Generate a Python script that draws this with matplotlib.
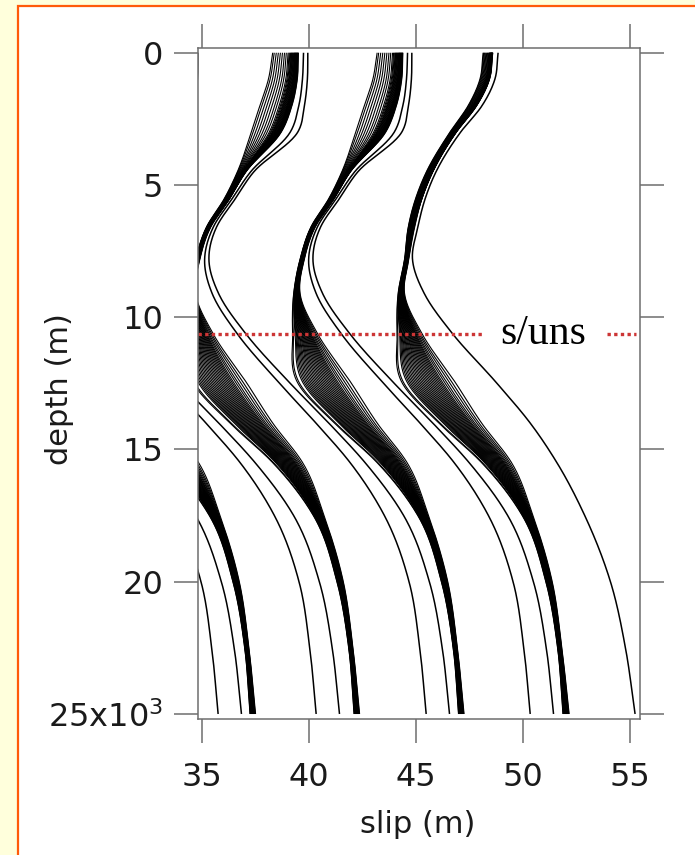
import numpy as np
import matplotlib
matplotlib.use("Agg")
import matplotlib.pyplot as plt
from matplotlib.patches import Rectangle

DEPTH_KNOTS = [0, 1, 2, 3, 4.5, 5.5, 6.6, 7.8, 9.1, 10.6, 12.5, 14, 15.5, 17.5, 20, 22.5, 25]

# reference cycle: left and right edge of the dense post-seismic bundle
BUNDLE_LEFT = [43.2, 43.0, 42.6, 42.2, 41.55, 40.95, 40.1, 39.6, 39.3, 39.25, 39.5, 41.2, 43.2, 45.1, 46.2, 46.75, 47.0]
BUNDLE_RIGHT = [44.4, 44.35, 44.1, 43.6, 41.95, 41.2, 40.3, 39.8, 39.6, 40.4, 42.0, 43.2, 44.6, 45.6, 46.5, 46.95, 47.26]

# reference cycle: the two interseismic profiles
INTER_1 = [44.62, 44.57, 44.4, 44.0, 42.15, 41.3, 40.4, 40.0, 40.35, 41.5, 43.5, 45.2, 46.8, 48.4, 49.55, 50.05, 50.35]
INTER_2 = [44.82, 44.8, 44.66, 44.35, 42.3, 41.45, 40.55, 40.2, 40.65, 41.9, 44.0, 45.8, 47.5, 49.3, 50.5, 51.1, 51.44]

# last (incomplete) cycle
LAST_BUNDLE_LEFT = [48.15, 48.0, 47.45, 46.6, 45.5, 45.0, 44.65, 44.48, 44.18, 44.13, 44.38, 46.08, 48.08, 49.98, 51.08, 51.63, 51.88]
LAST_BUNDLE_RIGHT = [48.6, 48.45, 47.85, 46.9, 45.8, 45.3, 44.95, 44.68, 44.48, 45.28, 46.88, 48.08, 49.48, 50.48, 51.38, 51.83, 52.17]
FINAL_PROFILE = [48.85, 48.7, 48.1, 47.1, 45.95, 45.45, 45.1, 44.85, 45.4, 46.7, 48.8, 50.35, 51.6, 52.9, 54.1, 54.8, 55.25]

# slip offsets of earlier cycles (read from where the groups end at 25 km)
BUNDLE_SHIFTS = [-9.74, -4.88, 0.0]
INTER_SHIFTS = [-14.58, -10.0, -4.86, 0.0]

# position of each bundle line between its left (0) and right (1) edge,
# above 6 km (sparse then packed) and below (evenly packed)
FRACS_SHALLOW = [0.0, 0.06, 0.14, 0.22, 0.3, 0.38, 0.46, 0.53, 0.6, 0.64,
                 0.67, 0.7, 0.72, 0.74, 0.76, 0.78, 0.8, 0.82, 0.84, 0.855,
                 0.87, 0.885, 0.9, 0.915, 0.93, 0.945, 0.96, 0.975, 0.99, 1.0]
FRACS_DEEP = [0.0, 0.03, 0.1, 0.13, 0.16, 0.19, 0.22, 0.25, 0.28, 0.31,
              0.34, 0.37, 0.4, 0.43, 0.46, 0.49, 0.52, 0.55, 0.58, 0.61,
              0.64, 0.67, 0.7, 0.73, 0.76, 0.8, 0.84, 0.89, 0.94, 1.0]

TRANSITION_DEPTH = 10.63
X_TICKS = [35, 40, 45, 50, 55]
Y_TICKS = [0, 5, 10, 15, 20, 25]
Y_TICK_LABELS = ["0", "5", "10", "15", "20", "25x10$^3$"]

AXIS_GREY = "#6e6e6e"


def smooth_profile(depths, slips, n=400):
    z = np.asarray(depths, float)
    s = np.asarray(slips, float)
    m = np.gradient(s, z)
    zz = np.linspace(z[0], z[-1], n)
    i = np.clip(np.searchsorted(z, zz, side="right") - 1, 0, len(z) - 2)
    h = z[i + 1] - z[i]
    t = (zz - z[i]) / h
    h00 = 2 * t**3 - 3 * t**2 + 1
    h10 = t**3 - 2 * t**2 + t
    h01 = -2 * t**3 + 3 * t**2
    h11 = t**3 - t**2
    return zz, h00 * s[i] + h10 * h * m[i] + h01 * s[i + 1] + h11 * h * m[i + 1]


def draw_profile(ax, slips, shift=0.0, lw=1.1):
    z, s = smooth_profile(DEPTH_KNOTS, np.asarray(slips) + shift)
    ax.plot(s, z, color="black", lw=lw, solid_capstyle="butt")


def draw_bundle(ax, left, right, shift=0.0):
    left = np.asarray(left)
    right = np.asarray(right)
    shallow = np.asarray(DEPTH_KNOTS) <= 5.5
    for f_top, f_deep in zip(FRACS_SHALLOW, FRACS_DEEP):
        f = np.where(shallow, f_top, f_deep)
        draw_profile(ax, left + f * (right - left), shift, lw=0.8)


def main():
    fig = plt.figure(figsize=(6.95, 8.55), dpi=100)
    fig.patch.set_facecolor("#FFFFDC")
    # white sheet with an orange frame, only its top and left edges fall inside the image
    fig.patches.append(Rectangle((18 / 695, -0.1), 1.2, 1.1 - 6 / 855,
                                 transform=fig.transFigure, facecolor="white",
                                 edgecolor="#FF5A0A", lw=1.6, zorder=-10))

    ax = fig.add_axes([198 / 695, 1 - 719 / 855, 442 / 695, 671 / 855])

    for sh in BUNDLE_SHIFTS:
        draw_bundle(ax, BUNDLE_LEFT, BUNDLE_RIGHT, sh)
    for sh in INTER_SHIFTS:
        draw_profile(ax, INTER_1, sh)
        draw_profile(ax, INTER_2, sh)
    draw_bundle(ax, LAST_BUNDLE_LEFT, LAST_BUNDLE_RIGHT)
    draw_profile(ax, FINAL_PROFILE)

    # stable / unstable transition
    ax.plot([34.83, 48.1], [TRANSITION_DEPTH] * 2, color="#CC3535", lw=2.4,
            dashes=(1.0, 1.0), solid_capstyle="butt")
    ax.plot([53.95, 55.3], [TRANSITION_DEPTH] * 2, color="#CC3535", lw=2.4,
            dashes=(1.0, 1.0), solid_capstyle="butt")
    ax.text(48.95, 11.0, "s/uns", family="Liberation Serif", fontsize=30,
            ha="left", va="baseline")

    ax.set_xlim(34.83, 55.48)
    ax.set_ylim(25.19, -0.18)
    ax.set_xticks(X_TICKS)
    ax.set_yticks(Y_TICKS)
    ax.set_yticklabels(Y_TICK_LABELS)
    ax.tick_params(which="both", direction="out", length=17, width=1.1,
                   color=AXIS_GREY, top=True, right=True,
                   labeltop=False, labelright=False, labelsize=23,
                   labelcolor="#1a1a1a")
    ax.tick_params(axis="y", pad=8)
    ax.tick_params(axis="x", pad=14)
    for sp in ax.spines.values():
        sp.set_color(AXIS_GREY)
        sp.set_linewidth(1.1)

    ax.set_xlabel("slip (m)", fontsize=22, color="#1a1a1a")
    ax.xaxis.set_label_coords(0.498, -0.1356)
    ax.set_ylabel("depth (m)", fontsize=22, color="#1a1a1a")
    ax.yaxis.set_label_coords(-0.2805, 0.492)

    fig.savefig("out.png", dpi=100, facecolor=fig.get_facecolor())
    plt.close(fig)


if __name__ == "__main__":
    main()
